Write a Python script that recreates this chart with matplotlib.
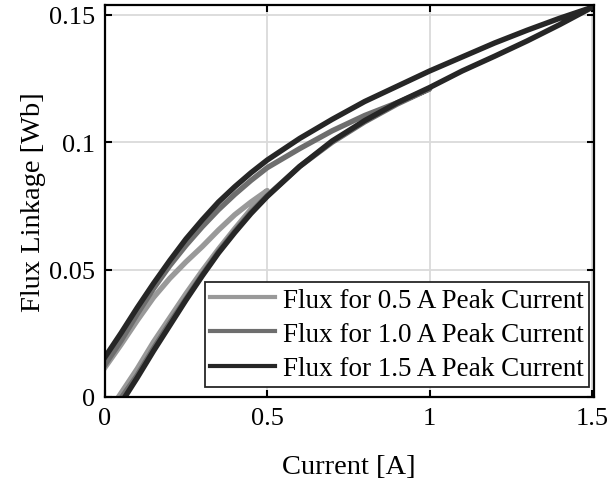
import matplotlib
matplotlib.use("Agg")
import matplotlib.pyplot as plt

# hysteresis loops: rising branch, then falling branch
# current [A] / flux linkage [Wb]
i_05 = [0.035, 0.1, 0.15, 0.2, 0.25, 0.3, 0.35, 0.4, 0.45, 0.5,
        0.45, 0.4, 0.35, 0.3, 0.25, 0.2, 0.15, 0.1, 0.05, -0.005]
psi_05 = [-0.0015, 0.011, 0.0215, 0.031, 0.0405, 0.0495, 0.058, 0.066, 0.0737, 0.081,
          0.0765, 0.0715, 0.0655, 0.059, 0.053, 0.0465, 0.039, 0.030, 0.0205, 0.0105]

i_10 = [0.045, 0.1, 0.15, 0.2, 0.25, 0.3, 0.35, 0.4, 0.45, 0.5, 0.6, 0.7, 0.8, 0.9, 1.0,
        0.9, 0.8, 0.7, 0.6, 0.5, 0.45, 0.4, 0.35, 0.3, 0.25, 0.2, 0.15, 0.1, 0.05, -0.005]
psi_10 = [-0.0015, 0.0085, 0.019, 0.029, 0.0385, 0.048, 0.057, 0.065, 0.0725, 0.079,
          0.0905, 0.100, 0.108, 0.115, 0.121,
          0.1155, 0.1105, 0.1045, 0.0975, 0.090, 0.085, 0.0795, 0.0735, 0.0668,
          0.0595, 0.0515, 0.0425, 0.0325, 0.022, 0.0115]

i_15 = [0.055, 0.1, 0.15, 0.2, 0.25, 0.3, 0.35, 0.4, 0.45, 0.5, 0.6, 0.7, 0.8, 0.9, 1.0,
        1.1, 1.2, 1.3, 1.4, 1.5,
        1.4, 1.3, 1.2, 1.1, 1.0, 0.9, 0.8, 0.7, 0.6, 0.5, 0.45, 0.4, 0.35, 0.3,
        0.25, 0.2, 0.15, 0.1, 0.05, -0.005]
psi_15 = [-0.0015, 0.0075, 0.018, 0.028, 0.038, 0.0475, 0.0565, 0.0645, 0.072, 0.0787,
          0.0905, 0.1005, 0.1085, 0.1155, 0.1215, 0.128, 0.1338, 0.1398, 0.1462, 0.153,
          0.1487, 0.144, 0.139, 0.1335, 0.128, 0.122, 0.116, 0.109, 0.1015, 0.093,
          0.088, 0.0825, 0.0765, 0.0695, 0.062, 0.0535, 0.0445, 0.035, 0.025, 0.0145]

labels = ["Flux for 0.5 A Peak Current", "Flux for 1.0 A Peak Current",
          "Flux for 1.5 A Peak Current"]
colors = ["#999999", "#6e6e6e", "#262626"]

plt.rcParams["font.family"] = ["Liberation Serif", "DejaVu Serif"]

fig = plt.figure(figsize=(6.09, 4.81), dpi=100)
ax = fig.add_axes([0.172, 0.173, 0.803, 0.815])

for x, y, c, lab in zip([i_05, i_10, i_15], [psi_05, psi_10, psi_15], colors, labels):
    ax.plot(x, y, color=c, lw=3.9, label=lab, solid_joinstyle="round")

ax.set_xlim(0, 1.505)
ax.set_ylim(0, 0.154)
ax.set_xticks([0, 0.5, 1, 1.5])
ax.set_xticklabels(["0", "0.5", "1", "1.5"])
ax.set_yticks([0, 0.05, 0.1, 0.15])
ax.set_yticklabels(["0", "0.05", "0.1", "0.15"])
ax.grid(True, color="#dadada", lw=1.3)
ax.set_axisbelow(True)
ax.tick_params(direction="in", length=5, width=1.5, top=True, right=True,
               labelsize=19, pad=7, colors="black")
for sp in ax.spines.values():
    sp.set_linewidth(1.6)
ax.set_xlabel("Current [A]", fontsize=20.5, labelpad=18)
ax.set_ylabel("Flux Linkage [Wb]", fontsize=20.5, labelpad=2)

leg = ax.legend(loc="lower right", bbox_to_anchor=(0.99, 0.026), fontsize=19.5,
                frameon=True, fancybox=False, handlelength=2.4, handletextpad=0.28,
                borderpad=0.2, labelspacing=0.34, borderaxespad=0)
leg.get_frame().set_edgecolor("#262626")
leg.get_frame().set_linewidth(1.3)
leg.get_frame().set_alpha(1)
for h in leg.get_lines():
    h.set_linewidth(3)

fig.savefig("out.png", dpi=100)
